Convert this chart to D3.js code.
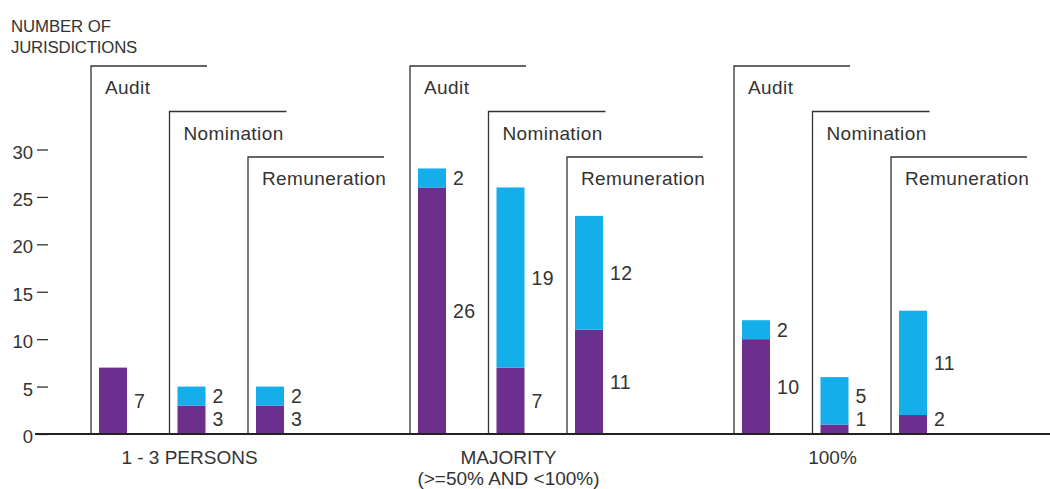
<!DOCTYPE html>
<html>
<head>
<meta charset="utf-8">
<script src="https://cdn.jsdelivr.net/npm/d3@7"></script>
<style>
  body { margin: 0; background: #fff; }
  svg { display: block; font-family: "Liberation Sans", Arial, sans-serif; }
  .tick text { fill: #333; font-size: 18.5px; }
  .tick line { stroke: #333; stroke-width: 1.3; }
</style>
</head>
<body>
<div id="chart"></div>
<script>
// chart data
var groups = ["1 - 3 PERSONS", "MAJORITY\n(>=50% AND <100%)", "100%"];
var committees = ["Audit", "Nomination", "Remuneration"];
// lower (purple) and upper (blue) parts, per group, per committee
var purpleVals = [[7, 3, 3], [26, 7, 11], [10, 1, 2]];
var blueVals = [[0, 2, 2], [2, 19, 12], [2, 5, 11]];
var yTicks = [0, 5, 10, 15, 20, 25, 30];

var width = 1050, height = 489;
var purple = "#6d2f8e", blue = "#14aeea";
var axisY = 434;
var txt = "#333";

var svg = d3.select("#chart")
  .append("svg")
  .attr("width", width)
  .attr("height", height);

var y = d3.scaleLinear().domain([0, 30]).range([axisY, 149.5]);
// groups are not quite evenly spaced in the original
var x = d3.scaleOrdinal().domain(groups).range([91, 410, 734]);
var xSub = d3.scaleBand().domain(committees).range([0, 3 * 78.5]);

// bracket geometry (tops in px, lengths of top line)
var bracketTop = {Audit: 66, Nomination: 111.5, Remuneration: 157};
var bracketLen = {Audit: 116, Nomination: 117, Remuneration: 136};
var barOff = 8, barW = 28;

// axis title
svg.append("text").attr("x", 11).attr("y", 32)
  .attr("font-size", 16.8).attr("fill", txt).attr("letter-spacing", -0.1)
  .text("NUMBER OF");
svg.append("text").attr("x", 11).attr("y", 53)
  .attr("font-size", 16.8).attr("fill", txt).attr("letter-spacing", -0.2)
  .text("JURISDICTIONS");

// y ticks (floating dashes, no domain line)
var yAxis = svg.append("g")
  .attr("transform", "translate(48,0)")
  .call(d3.axisLeft(y).tickValues(yTicks).tickSize(11).tickPadding(4));
yAxis.select(".domain").remove();
yAxis.selectAll(".tick text").attr("dy", "0.46em");

// build flat list of subgroups
var cells = [];
groups.forEach(function(g, gi) {
  committees.forEach(function(c, ci) {
    cells.push({group: g, com: c, p: purpleVals[gi][ci], b: blueVals[gi][ci]});
  });
});

var cell = svg.selectAll("g.cell").data(cells).enter()
  .append("g")
  .attr("class", "cell")
  .attr("transform", function(d) {
    return "translate(" + (x(d.group) + xSub(d.com)) + ",0)";
  });

// brackets
cell.append("path")
  .attr("d", function(d) {
    return "M0," + axisY + "V" + bracketTop[d.com] + "H" + bracketLen[d.com];
  })
  .attr("fill", "none")
  .attr("stroke", "#333")
  .attr("stroke-width", 1.3);

cell.append("text")
  .attr("x", 14)
  .attr("y", function(d) { return bracketTop[d.com] + 28; })
  .attr("font-size", 19)
  .attr("letter-spacing", 0.4)
  .attr("fill", txt)
  .text(function(d) { return d.com; });

// stacked bars
cell.append("rect")
  .attr("x", barOff).attr("width", barW)
  .attr("y", function(d) { return y(d.p); })
  .attr("height", function(d) { return y(0) - y(d.p); })
  .attr("fill", purple);

cell.filter(function(d) { return d.b > 0; })
  .append("rect")
  .attr("x", barOff).attr("width", barW)
  .attr("y", function(d) { return y(d.p + d.b); })
  .attr("height", function(d) { return y(d.p) - y(d.p + d.b); })
  .attr("fill", blue);

// value labels, centred on each segment, nudged apart when tight
cell.each(function(d) {
  var g = d3.select(this);
  var lowY = Math.min((y(0) + y(d.p)) / 2, axisY - 15);
  var labels = [{v: d.p, cy: lowY}];
  if (d.b > 0) {
    var hiY = Math.min((y(d.p) + y(d.p + d.b)) / 2, lowY - 23.5);
    labels.push({v: d.b, cy: hiY});
  }
  labels.forEach(function(l) {
    g.append("text")
      .attr("x", barOff + barW + 7)
      .attr("y", l.cy)
      .attr("dy", "0.36em")
      .attr("font-size", 19.5)
      .attr("letter-spacing", 0.4)
      .attr("fill", txt)
      .text(l.v);
  });
});

// baseline
svg.append("line")
  .attr("x1", 35).attr("x2", width)
  .attr("y1", axisY).attr("y2", axisY)
  .attr("stroke", "#222").attr("stroke-width", 2);

// group labels under the middle bar
svg.selectAll("text.grp").data(groups).enter()
  .append("text")
  .attr("class", "grp")
  .attr("text-anchor", "middle")
  .attr("font-size", 19)
  .attr("fill", txt)
  .attr("transform", function(d) {
    return "translate(" + (x(d) + xSub("Nomination") + barOff + barW / 2 - 2) + ",464)";
  })
  .each(function(d) {
    var t = d3.select(this);
    d.split("\n").forEach(function(line, i) {
      t.append("tspan").attr("x", 0).attr("y", i * 21).text(line);
    });
  });
</script>
</body>
</html>
